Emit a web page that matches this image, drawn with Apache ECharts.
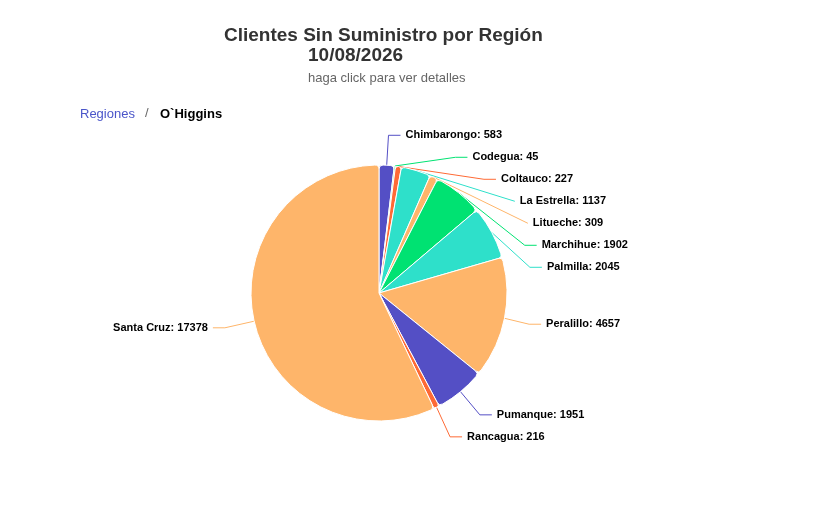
<!DOCTYPE html>
<html><head><meta charset="utf-8">
<script src="https://cdn.jsdelivr.net/npm/echarts@6/dist/echarts.min.js"></script>
<style>html,body{margin:0;padding:0;background:#fff}#c{width:839px;height:507px}</style>
</head><body><div id="c"></div>
<script>
const comunas = ['Chimbarongo','Codegua','Coltauco','La Estrella','Litueche','Marchihue','Palmilla','Peralillo','Pumanque','Rancagua','Santa Cruz'];
const clientes = [583,45,227,1137,309,1902,2045,4657,1951,216,17378];
const colores = ['#544fc5','#00e272','#fe6a35','#2ee0ca','#feb56a','#00e272','#2ee0ca','#feb56a','#544fc5','#fe6a35','#feb56a'];
const titulo = 'Clientes Sin Suministro por Región';
const fecha = '10/08/2026';
const subtitulo = 'haga click para ver detalles';
const miga = ['Regiones','O`Higgins'];

const chart = echarts.init(document.getElementById('c'), null, {renderer:'canvas'});
const font = 'Liberation Sans, Arial, sans-serif';
chart.setOption({
  animation:false,
  title:[
    {text:titulo, left:219, top:21, textStyle:{fontFamily:font,fontSize:19,fontWeight:'bold',color:'#333'}},
    {text:fecha, left:303, top:41, textStyle:{fontFamily:font,fontSize:19,fontWeight:'bold',color:'#333'}},
    {text:subtitulo, left:303, top:67, textStyle:{fontFamily:font,fontSize:13,fontWeight:'normal',color:'#666'}},
    {text:miga[0], left:75, top:103, textStyle:{fontFamily:font,fontSize:13,fontWeight:'normal',color:'#4a55c9'}},
    {text:'/', left:140, top:102, textStyle:{fontFamily:font,fontSize:13,fontWeight:'normal',color:'#666'}},
    {text:miga[1], left:155, top:103, textStyle:{fontFamily:font,fontSize:13,fontWeight:'bold',color:'#000'}}
  ],
  series:[{
    type:'pie',
    center:[379,293],
    radius:[0,128],
    startAngle:90,
    clockwise:true,
    avoidLabelOverlap:true,
    itemStyle:{borderColor:'#fff',borderWidth:1,borderRadius:4},
    label:{show:true,formatter:'{b}: {c}',fontFamily:font,fontSize:11,fontWeight:'bold',color:'#000',lineHeight:20},
    labelLine:{show:true,length:30,length2:12,lineStyle:{width:1}},
    data:comunas.map((n,i)=>({name:n,value:clientes[i],itemStyle:{color:colores[i]},labelLine:{lineStyle:{color:colores[i]}}}))
  }]
});
</script></body></html>
